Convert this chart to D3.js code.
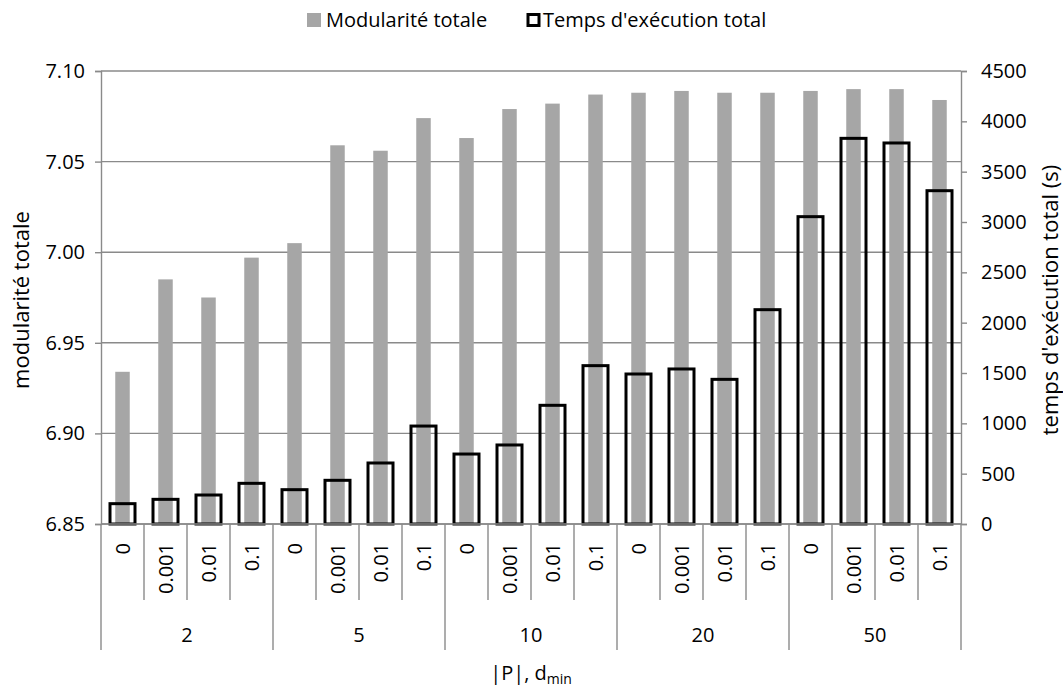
<!DOCTYPE html>
<html><head><meta charset="utf-8">
<script src="https://cdn.jsdelivr.net/npm/d3@7"></script>
<style>
body{margin:0;background:#fff;}
svg{display:block;font-family:"Open Sans",sans-serif;}
</style></head>
<body><svg id="c" width="1063" height="691"></svg>
<script>
const groups = ["2","5","10","20","50"];
const dmins = ["0","0.001","0.01","0.1"];
const modularity = [6.934, 6.985, 6.975, 6.997, 7.005, 7.059, 7.056, 7.074, 7.063, 7.079, 7.082, 7.087, 7.088, 7.089, 7.088, 7.088, 7.089, 7.090, 7.090, 7.084];
const times = [202, 245, 288, 404, 341, 434, 606, 973, 695, 785, 1179, 1573, 1490, 1540, 1437, 2129, 3053, 3831, 3785, 3311];
const leftTicks = [6.85, 6.90, 6.95, 7.00, 7.05, 7.10];
const rightTicks = [0,500,1000,1500,2000,2500,3000,3500,4000,4500];
const seriesNames = ["Modularité totale", "Temps d'exécution total"];
const yTitleLeft = "modularité totale";
const yTitleRight = "temps d'exécution total (s)";

const L = 101, R = 961, T = 71, B = 524;
const grid = "#8a8a8a", barGrey = "#a6a6a6";
const svg = d3.select("#c");

const cats = [];
groups.forEach((g,gi)=>dmins.forEach((d,di)=>cats.push({g,d,i:gi*4+di})));
const x = d3.scaleBand().domain(cats.map(c=>c.i)).range([L,R]).paddingInner(0).paddingOuter(0);
const yL = d3.scaleLinear().domain([6.85,7.10]).range([B,T]);
const yR = d3.scaleLinear().domain([0,4500]).range([B,T]);
const xg = d3.scaleBand().domain(groups).range([L,R]);

// gridlines
svg.append("g").selectAll("line").data(leftTicks).join("line")
  .attr("x1",L).attr("x2",R).attr("y1",d=>yL(d)).attr("y2",d=>yL(d))
  .attr("stroke",grid).attr("stroke-width",1.4);

// left axis
const gl = svg.append("g").attr("transform",`translate(${L},0)`)
  .call(d3.axisLeft(yL).tickValues(leftTicks).tickFormat(d3.format(".2f")).tickSizeOuter(0).tickSize(6).tickPadding(10));
gl.select(".domain").attr("stroke",grid).attr("stroke-width",1.4);
gl.selectAll(".tick line").attr("stroke",grid).attr("stroke-width",1.4);
gl.selectAll(".tick text").attr("font-size",20).attr("fill","#000").attr("font-family","Open Sans");

// right axis
const gr = svg.append("g").attr("transform",`translate(${R},0)`)
  .call(d3.axisRight(yR).tickValues(rightTicks).tickFormat(d3.format("d")).tickSizeOuter(0).tickSize(6).tickPadding(14));
gr.select(".domain").attr("stroke",grid).attr("stroke-width",1.4);
gr.selectAll(".tick line").attr("stroke",grid).attr("stroke-width",1.4);
gr.selectAll(".tick text").attr("font-size",20).attr("fill","#000").attr("font-family","Open Sans");

// grey bars
const gw = 14.5;
svg.append("g").selectAll("rect").data(cats).join("rect")
  .attr("x",c=>x(c.i)+x.bandwidth()/2-gw/2).attr("width",gw)
  .attr("y",c=>yL(modularity[c.i])).attr("height",c=>B-yL(modularity[c.i]))
  .attr("fill",barGrey);

// outlined bars
const ow = 25;
svg.append("g").selectAll("rect").data(cats).join("rect")
  .attr("x",c=>x(c.i)+x.bandwidth()/2-ow/2).attr("width",ow)
  .attr("y",c=>yR(times[c.i])).attr("height",c=>B-yR(times[c.i]))
  .attr("fill","none").attr("stroke","#000").attr("stroke-width",3);

// bottom axis line
svg.append("line").attr("x1",L).attr("x2",R).attr("y1",B).attr("y2",B).attr("stroke",grid).attr("stroke-width",1.4);

// category separators
const bounds = d3.range(cats.length+1);
svg.append("g").selectAll("line").data(bounds).join("line")
  .attr("x1",i=>L+i*x.bandwidth()).attr("x2",i=>L+i*x.bandwidth())
  .attr("y1",B).attr("y2",i=>i%4===0?650:600)
  .attr("stroke",grid).attr("stroke-width",1.4);

// category labels
svg.append("g").selectAll("text").data(cats).join("text")
  .attr("transform",c=>`translate(${x(c.i)+x.bandwidth()/2},543) rotate(-90)`)
  .attr("text-anchor","end").attr("dy","0.35em")
  .attr("font-size",20).text(c=>c.d);

// group labels
svg.append("g").selectAll("text").data(groups).join("text")
  .attr("x",g=>xg(g)+xg.bandwidth()/2).attr("y",635).attr("dy","0.35em")
  .attr("text-anchor","middle").attr("font-size",20).text(g=>g);

// x title
const xt = svg.append("text").attr("x",(L+R)/2).attr("y",673).attr("dy","0.35em")
  .attr("text-anchor","middle").attr("font-size",20);
xt.append("tspan").text("|P|, d");
xt.append("tspan").attr("font-size",14).attr("dy","0.3em").text("min");

// y titles
svg.append("text").attr("transform",`translate(21,300) rotate(-90)`).attr("text-anchor","middle")
  .attr("dy","0.35em").attr("font-size",22).text(yTitleLeft);
svg.append("text").attr("transform",`translate(1050,300) rotate(-90)`).attr("text-anchor","middle")
  .attr("dy","0.35em").attr("font-size",22).text(yTitleRight);

// legend
const lg = svg.append("g");
lg.append("rect").attr("x",307).attr("y",13).attr("width",14).attr("height",14).attr("fill",barGrey);
lg.append("text").attr("x",326).attr("y",20).attr("dy","0.35em").attr("font-size",20).text(seriesNames[0]);
lg.append("rect").attr("x",528).attr("y",14.5).attr("width",11).attr("height",11).attr("fill","none").attr("stroke","#000").attr("stroke-width",3);
lg.append("text").attr("x",543).attr("y",20).attr("dy","0.35em").attr("font-size",20).text(seriesNames[1]);
</script></body></html>
